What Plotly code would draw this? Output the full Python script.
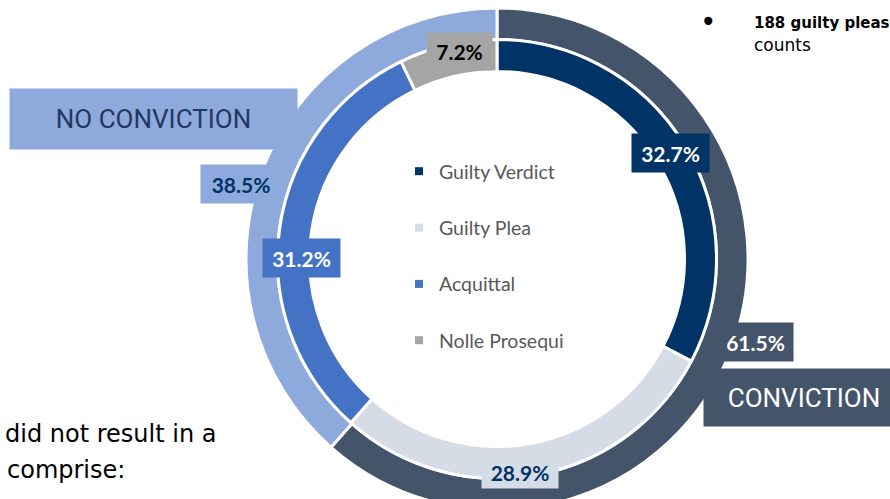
import plotly.graph_objects as go

# ---------------- data ----------------
outer_labels = ["Conviction", "No Conviction"]
outer_values = [61.5, 38.5]
outer_colors = ["#44546A", "#8EA9DB"]

inner_labels = ["Guilty Verdict", "Guilty Plea", "Acquittal", "Nolle Prosequi"]
inner_values = [32.7, 28.9, 31.2, 7.2]
inner_colors = ["#003366", "#D6DCE5", "#4472C4", "#A5A5A5"]

# ---------------- geometry helpers ----------------
W, H = 890, 510          # page window is 890x499; the ring runs off the bottom edge
MT = 8
PH = H - MT              # plot-area height


def px(x):
    return x / W


def py(y):
    return 1 - (y - MT) / PH


CX, CY = 497, 259
R_OUT = 251
R_OUT_HOLE = 219.5
R_IN = 219.5
R_IN_HOLE = 187.5

fig = go.Figure()

fig.add_trace(go.Pie(
    labels=outer_labels, values=outer_values, sort=False, direction="clockwise",
    rotation=0, hole=R_OUT_HOLE / R_OUT, textinfo="none", hoverinfo="label+percent",
    marker=dict(colors=outer_colors, line=dict(color="white", width=3)),
    domain=dict(x=[px(CX - R_OUT), px(CX + R_OUT)], y=[0, 1]),
    showlegend=False,
))

fig.add_trace(go.Pie(
    labels=inner_labels, values=inner_values, sort=False, direction="clockwise",
    rotation=0, hole=R_IN_HOLE / R_IN, textinfo="none", hoverinfo="label+percent",
    marker=dict(colors=inner_colors, line=dict(color="white", width=3)),
    domain=dict(x=[px(CX - R_IN), px(CX + R_IN)], y=[py(CY + R_IN), py(CY - R_IN)]),
    showlegend=False,
))

# legend entries (one group each, for spacing)
for i, (lab, col) in enumerate(zip(inner_labels, inner_colors)):
    fig.add_trace(go.Scatter(
        x=[None], y=[None], mode="markers", name=lab,
        marker=dict(symbol="square", size=8, color=col),
        legendgroup=f"g{i}", showlegend=True,
    ))

# ---------------- labels ----------------
label_font = "Lato"
pct_specs = [
    # text value, center px, box size, bg, font colour
    (outer_values[0], (755.5, 342), (75, 38), outer_colors[0], "white"),
    (outer_values[1], (241, 184), (80, 38), outer_colors[1], "#003366"),
    (inner_values[0], (670.5, 153), (77, 38), inner_colors[0], "white"),
    (inner_values[1], (520, 472), (76, 32), inner_colors[1], "#003366"),
    (inner_values[2], (301.5, 258), (77, 38), inner_colors[2], "white"),
    (inner_values[3], (459.5, 51.5), (65, 37), inner_colors[3], "black"),
]

annotations = []
for val, (x, y), (w, h), bg, fc in pct_specs:
    annotations.append(dict(
        text=f"<b>{val}%</b>", x=px(x), y=py(y), xref="paper", yref="paper",
        xanchor="center", yanchor="middle", showarrow=False,
        width=w, height=h, bgcolor=bg, borderpad=0,
        font=dict(family=label_font, size=21, color=fc),
    ))

# category callouts
annotations.append(dict(
    text="NO CONVICTION", x=px(153.5), y=py(119), xref="paper", yref="paper",
    xanchor="center", yanchor="middle", showarrow=False,
    width=287, height=60, bgcolor="#8EA9DB", borderpad=0,
    font=dict(family="Roboto", size=26, color="#1F3864"),
))
annotations.append(dict(
    text="CONVICTION", x=px(804), y=py(397.5), xref="paper", yref="paper",
    xanchor="center", yanchor="middle", showarrow=False,
    width=200, height=57, bgcolor="#44546A", borderpad=0,
    font=dict(family="Roboto", size=26, color="white"),
))

# surrounding slide text
annotations += [
    dict(text="•", x=px(708), y=py(22), xref="paper", yref="paper",
         xanchor="center", yanchor="middle", showarrow=False,
         font=dict(family="DejaVu Sans", size=28, color="black")),
    dict(text="<b>188 guilty pleas</b>", x=px(752), y=py(23.5), xref="paper", yref="paper",
         xanchor="left", yanchor="middle", showarrow=False,
         font=dict(family="DejaVu Sans", size=15, color="black")),
    dict(text="counts", x=px(752), y=py(45), xref="paper", yref="paper",
         xanchor="left", yanchor="middle", showarrow=False,
         font=dict(family="DejaVu Sans", size=17, color="black")),
    dict(text="did not result in a", x=px(3), y=py(434), xref="paper", yref="paper",
         xanchor="left", yanchor="middle", showarrow=False,
         font=dict(family="DejaVu Sans", size=24, color="black")),
    dict(text="comprise:", x=px(5), y=py(470), xref="paper", yref="paper",
         xanchor="left", yanchor="middle", showarrow=False,
         font=dict(family="DejaVu Sans", size=24, color="black")),
]

fig.update_layout(
    width=W, height=H,
    margin=dict(l=0, r=0, t=MT, b=0),
    paper_bgcolor="white", plot_bgcolor="white",
    xaxis=dict(visible=False), yaxis=dict(visible=False),
    showlegend=True,
    legend=dict(
        x=px(399), y=py(152), xanchor="left", yanchor="top",
        font=dict(family="Lato", size=19.5, color="#595959"),
        tracegroupgap=28, bgcolor="rgba(0,0,0,0)", itemclick=False,
    ),
    annotations=annotations,
)

fig.write_html(
    "out.html",
    config={"displayModeBar": False},
    post_script=(
        "document.body.style.margin='0';"
        "document.body.style.overflow='hidden';"
        "document.documentElement.style.overflow='hidden';"
    ),
)
